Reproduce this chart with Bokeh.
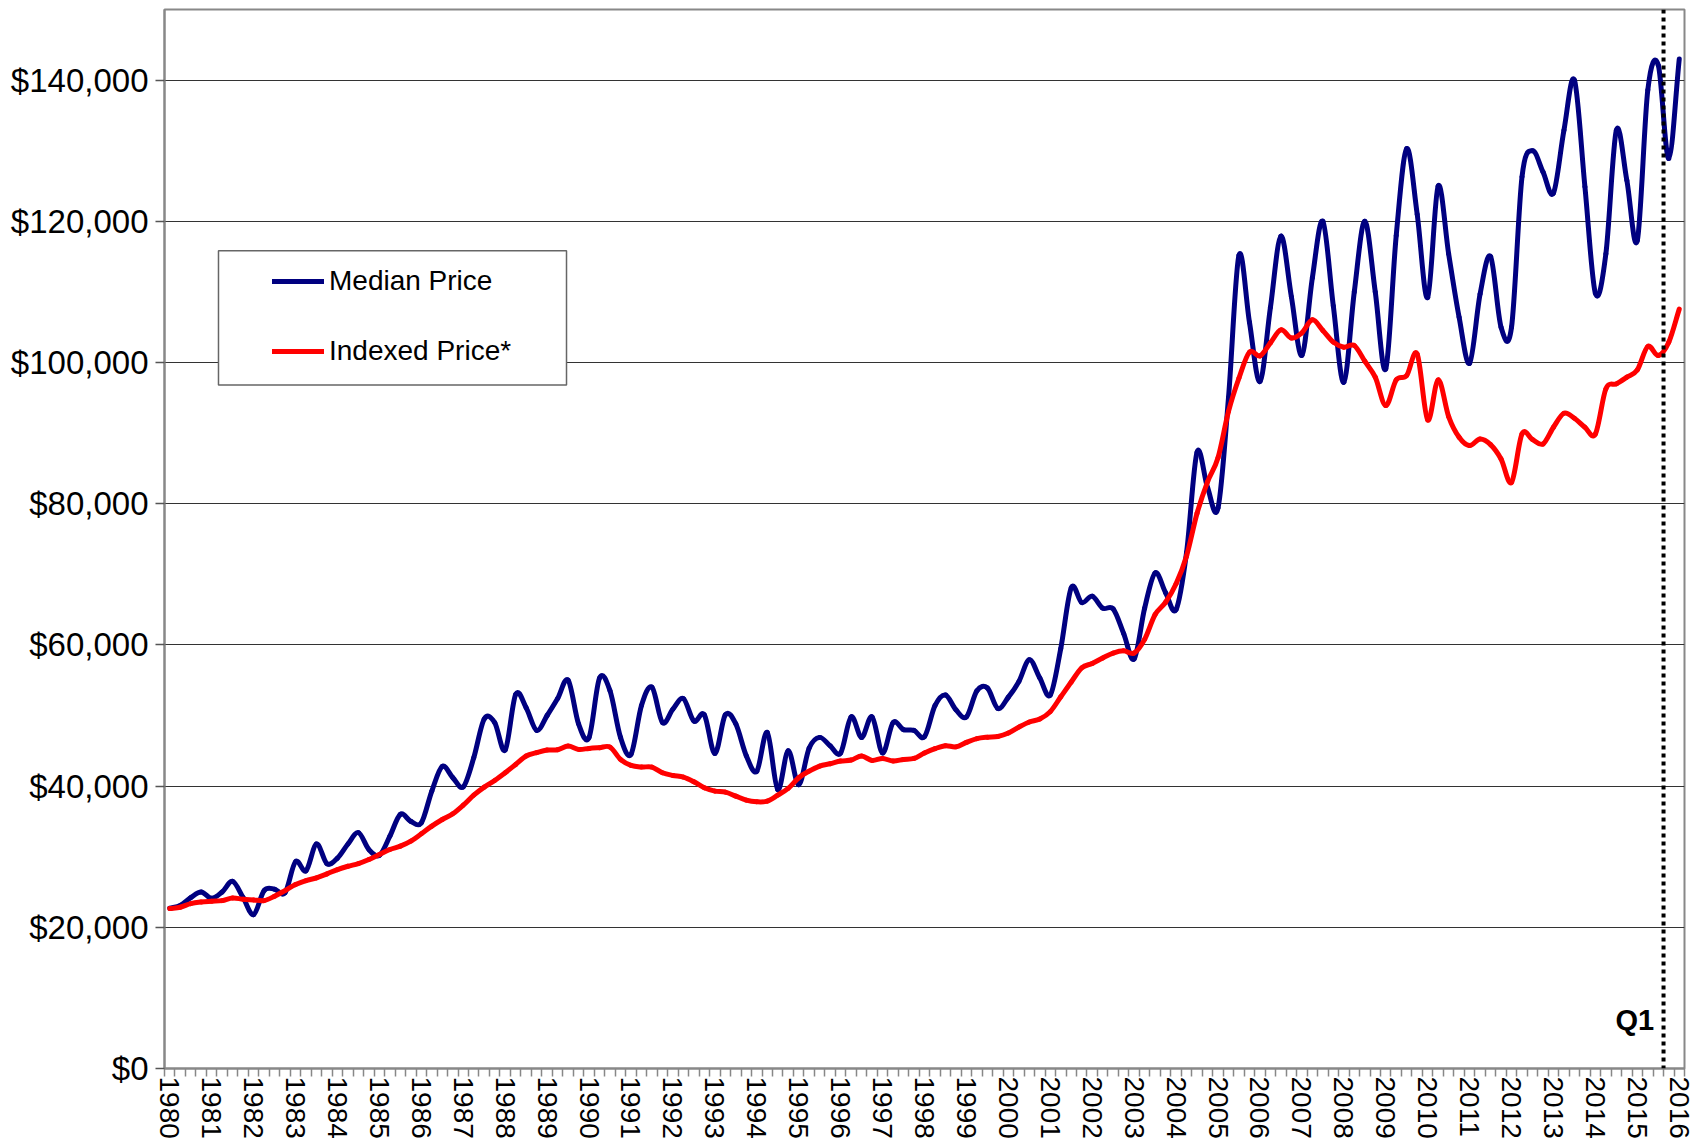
from bokeh.plotting import figure
from bokeh.models import (Range1d, FixedTicker, NumeralTickFormatter, Legend, LegendItem,
                          Span, Label, BoxAnnotation, ColumnDataSource)
from bokeh.embed import file_html
from bokeh.resources import INLINE

# ---- data (quarterly, 1980 Q1 .. 2016 Q1) ----
years = list(range(1980, 2017))
median_price = [
    22700, 23100, 24200, 25000, 24100, 25000, 26500, 24200, 21800, 25200, 25400, 24900,
    29300, 28000, 31800, 29000, 29800, 31800, 33400, 31000, 30200, 32900, 36000, 35000,
    34800, 39300, 42800, 41200, 39900, 44000, 49500, 49000, 45100, 53000, 51100, 47900,
    50000, 52400, 55000, 48800, 46900, 55300, 53500, 46900, 44500, 51400, 54000, 49000,
    50900, 52400, 49200, 50100, 44600, 50100, 48800, 44300, 42100, 47600, 39500, 45000,
    40200, 45400, 46900, 45700, 44700, 49800, 46900, 49800, 44700, 49000, 48000, 47900,
    47000, 51400, 52900, 50800, 49800, 53500, 53900, 51000, 52600, 54800, 57900, 55300,
    52900, 59500, 68100, 66000, 66900, 65200, 65100, 61600, 58000, 65200, 70200, 67400,
    65000, 73100, 87300, 82300, 79400, 95000, 115200, 105700, 97300, 107800, 117900, 109300,
    101000, 112000, 120000, 108000, 97200, 110000, 120000, 110000, 99100, 118000, 130300, 121000,
    109200, 125000, 115400, 106400, 99900, 109700, 115000, 105000, 105000, 126300, 130000, 127000,
    124000, 132900, 140000, 124900, 109800, 115400, 132900, 125800, 117300, 138600, 142100, 128900,
    143000,
]
indexed_price = [
    22650, 22840, 23360, 23590, 23690, 23780, 24160, 23970, 23880, 23780, 24400, 25200,
    26050, 26620, 27000, 27570, 28180, 28650, 29030, 29600, 30310, 31020, 31490, 32200,
    33240, 34330, 35270, 36080, 37300, 38720, 39860, 40800, 41890, 43070, 44260, 44730,
    45100, 45150, 45670, 45200, 45340, 45440, 45530, 43780, 42930, 42700, 42700, 41890,
    41510, 41280, 40610, 39760, 39290, 39150, 38580, 38010, 37780, 37870, 38720, 39670,
    41180, 42130, 42840, 43170, 43550, 43690, 44260, 43640, 43920, 43550, 43780, 43920,
    44700, 45300, 45720, 45560, 46190, 46720, 46930, 47030, 47510, 48350, 49080, 49500,
    50550, 52650, 54750, 56750, 57370, 58160, 58850, 59160, 58850, 60790, 64300, 66040,
    68660, 72600, 78640, 83100, 86510, 93070, 97800, 101470, 100940, 102780, 104620, 103460,
    104200, 106040, 104540, 102880, 102170, 102410, 100190, 97920, 93900, 97540, 98160, 101200,
    91870, 97540, 92340, 89410, 88230, 89170, 88370, 86340, 83030, 89880, 89080, 88460,
    90830, 92810, 92100, 90830, 89880, 96260, 96970, 97920, 98960, 102270, 101000, 102880,
    107560,
]
y_ticks = [0, 20000, 40000, 60000, 80000, 100000, 120000, 140000]
series_labels = ["Median Price", "Indexed Price*"]
marker_text = "Q1"
marker_position = 142.5   # between 2015 Q3 and 2015 Q4 (quarter index)

quarter = list(range(len(median_price)))


def smooth_segments(xs, ys):
    """Cubic Bezier pieces through every data point (Excel-style smoothed line)."""
    n = len(xs)
    d = dict(x0=[], y0=[], x1=[], y1=[], cx0=[], cy0=[], cx1=[], cy1=[])
    def tangent(k):
        a = max(k - 1, 0)
        b = min(k + 1, n - 1)
        return (xs[b] - xs[a]) / (b - a), (ys[b] - ys[a]) / (b - a)
    for k in range(n - 1):
        tx0, ty0 = tangent(k)
        tx1, ty1 = tangent(k + 1)
        d["x0"].append(xs[k]); d["y0"].append(ys[k])
        d["x1"].append(xs[k + 1]); d["y1"].append(ys[k + 1])
        d["cx0"].append(xs[k] + tx0 / 3); d["cy0"].append(ys[k] + ty0 / 3)
        d["cx1"].append(xs[k + 1] - tx1 / 3); d["cy1"].append(ys[k + 1] - ty1 / 3)
    return ColumnDataSource(d)


FONT = "Liberation Sans"

p = figure(width=1696, height=1141, output_backend="svg", toolbar_location=None,
           x_range=Range1d(-0.5, len(quarter) - 0.5), y_range=Range1d(0, 150000),
           min_border_left=164, min_border_right=12, min_border_top=9, min_border_bottom=0,
           background_fill_color="white", border_fill_color="white")

p.outline_line_color = "#888888"
p.outline_line_width = 2

# x axis: year labels at Q1 of each year, minor ticks at each quarter boundary
year_pos = [4 * k for k in range(len(years))]
p.xaxis.ticker = FixedTicker(ticks=year_pos, minor_ticks=[i - 0.5 for i in range(len(quarter) + 1)])
p.xaxis.major_label_overrides = {pos: str(y) for pos, y in zip(year_pos, years)}
p.xaxis.major_label_orientation = "vertical"
p.xaxis.major_tick_out = 0
p.xaxis.major_tick_in = 0
p.xaxis.minor_tick_out = 8
p.xaxis.minor_tick_in = 0
p.xaxis.minor_tick_line_color = "#888888"
p.xaxis.minor_tick_line_width = 1.5
p.xaxis.axis_line_color = "#888888"
p.xaxis.axis_line_width = 2
p.xaxis.major_label_text_font = FONT
p.xaxis.major_label_text_font_size = "28px"
p.xaxis.major_label_text_color = "black"
p.xaxis.major_label_standoff = 0

# y axis
p.yaxis.ticker = FixedTicker(ticks=y_ticks)
p.yaxis.formatter = NumeralTickFormatter(format="$0,0")
p.yaxis.major_tick_out = 9
p.yaxis.major_tick_in = 0
p.yaxis.minor_tick_line_color = None
p.yaxis.major_tick_line_color = "#555555"
p.yaxis.major_tick_line_width = 1.5
p.yaxis.axis_line_color = "#888888"
p.yaxis.axis_line_width = 2
p.yaxis.major_label_text_font = FONT
p.yaxis.major_label_text_font_size = "33px"
p.yaxis.major_label_text_color = "black"
p.yaxis.major_label_standoff = 7

p.xgrid.grid_line_color = None
p.ygrid.ticker = FixedTicker(ticks=y_ticks)
p.ygrid.grid_line_color = "#333333"
p.ygrid.grid_line_width = 1.2

med_src = smooth_segments(quarter, median_price)
idx_src = smooth_segments(quarter, indexed_price)
r_med = p.bezier(x0="x0", y0="y0", x1="x1", y1="y1", cx0="cx0", cy0="cy0", cx1="cx1", cy1="cy1",
                 source=med_src, line_color="#000080", line_width=5, line_cap="round")
r_idx = p.bezier(x0="x0", y0="y0", x1="x1", y1="y1", cx0="cx0", cy0="cy0", cx1="cx1", cy1="cy1",
                 source=idx_src, line_color="#FF0000", line_width=5, line_cap="round")

# legend frame
box = BoxAnnotation(left=4.65, right=37.85, top=115830, bottom=96830,
                    fill_color="white", fill_alpha=1.0, line_color="#666666", line_width=1.5,
                    line_alpha=1.0)
p.add_layout(box)

legend = Legend(items=[LegendItem(label=series_labels[0], renderers=[r_med]),
                       LegendItem(label=series_labels[1], renderers=[r_idx])],
                location=(108, 701), padding=0, margin=0, spacing=38,
                glyph_width=52, glyph_height=30, label_height=30, label_standoff=5,
                label_text_font=FONT, label_text_font_size="28px", label_text_color="black",
                border_line_color=None, background_fill_alpha=0.0)
p.add_layout(legend)

p.add_layout(Span(location=marker_position, dimension="height", line_color="black",
                  line_width=4, line_dash="4 4"))
p.add_layout(Label(x=141.6, y=6800, text=marker_text, text_align="right",
                   text_baseline="alphabetic", text_font=FONT, text_font_style="bold",
                   text_font_size="29px", text_color="black"))

open("out.html", "w").write(file_html(p, INLINE))
